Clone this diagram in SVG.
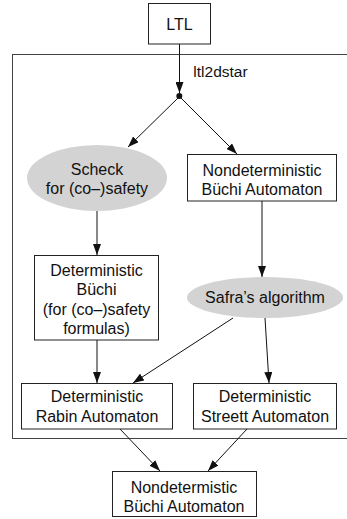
<svg xmlns="http://www.w3.org/2000/svg" width="347" height="519" viewBox="0 0 347 519">
  <style>
    .box { fill: #ffffff; stroke: #222222; stroke-width: 1; }
    .proc { fill: #d3d3d3; stroke: none; }
    .lbl { font-family: "Liberation Sans", Arial, sans-serif; font-size: 16px; fill: #111111; text-anchor: middle; }
    .edge { stroke: #111111; stroke-width: 1; fill: none; marker-end: url(#arrow); }
    .frame { fill: none; stroke: #444444; stroke-width: 1; }
  </style>
  <defs>
    <marker id="arrow" markerUnits="userSpaceOnUse" markerWidth="11" markerHeight="8" refX="11" refY="4" orient="auto">
      <path d="M0,0 L11,4 L0,8 z" fill="#111111"/>
    </marker>
  </defs>

  <rect color="white" width="347" height="519" fill="#ffffff"/>

  <!-- ltl2dstar cluster -->
  <g id="cluster-ltl2dstar">
    <rect class="frame" x="12.5" y="54.5" width="400" height="384"/>
    <text class="lbl" x="220.5" y="77" style="font-size:15.5px">ltl2dstar</text>
  </g>

  <!-- connectors -->
  <g id="edges">
    <line class="edge" x1="179.5" y1="44" x2="179.5" y2="93"/>
    <line class="edge" x1="179" y1="97" x2="128" y2="147"/>
    <line class="edge" x1="180" y1="97" x2="237" y2="154"/>
    <line class="edge" x1="97" y1="211" x2="97" y2="255"/>
    <line class="edge" x1="262" y1="201" x2="262" y2="277"/>
    <line class="edge" x1="97" y1="340" x2="97" y2="383"/>
    <line class="edge" x1="233" y1="318" x2="133" y2="383"/>
    <line class="edge" x1="265" y1="318" x2="269" y2="383"/>
    <line class="edge" x1="120" y1="429" x2="160" y2="471"/>
    <line class="edge" x1="247" y1="429" x2="208" y2="471"/>
  </g>

  <g id="ltl">
    <rect class="box" x="148.5" y="3.5" width="62" height="40.5"/>
    <text class="lbl" x="179.5" y="29.5">LTL</text>
  </g>

  <g id="split">
    <circle cx="179.3" cy="96" r="3" fill="#111111"/>
  </g>

  <g id="scheck">
    <ellipse class="proc" cx="97" cy="178" rx="70" ry="33"/>
    <text class="lbl" x="97" y="174.5">Scheck</text>
    <text class="lbl" x="97" y="193.5">for (co–)safety</text>
  </g>

  <g id="nba">
    <rect class="box" x="187.5" y="154.5" width="149" height="46.5"/>
    <text class="lbl" x="262" y="175.5">Nondeterministic</text>
    <text class="lbl" x="262" y="195">Büchi Automaton</text>
  </g>

  <g id="det-buchi">
    <rect class="box" x="34.5" y="255.5" width="124" height="84.5"/>
    <text class="lbl" x="96.5" y="275.5">Deterministic</text>
    <text class="lbl" x="96.5" y="295">Büchi</text>
    <text class="lbl" x="96.5" y="314.5">(for (co–)safety</text>
    <text class="lbl" x="96.5" y="334">formulas)</text>
  </g>

  <g id="safra">
    <ellipse class="proc" cx="265" cy="297.5" rx="78" ry="20.5"/>
    <text class="lbl" x="265" y="303">Safra’s algorithm</text>
  </g>

  <g id="dra">
    <rect class="box" x="21.5" y="383.5" width="151" height="45.5"/>
    <text class="lbl" x="97" y="402">Deterministic</text>
    <text class="lbl" x="97" y="421.5">Rabin Automaton</text>
  </g>

  <g id="dsa">
    <rect class="box" x="193.5" y="383.5" width="143" height="45.5"/>
    <text class="lbl" x="265" y="402">Deterministic</text>
    <text class="lbl" x="265" y="421.5">Streett Automaton</text>
  </g>

  <g id="nba-out">
    <rect class="box" x="112.5" y="471.5" width="144" height="45"/>
    <text class="lbl" x="184" y="492.5">Nondetermistic</text>
    <text class="lbl" x="184" y="512">Büchi Automaton</text>
  </g>
</svg>
